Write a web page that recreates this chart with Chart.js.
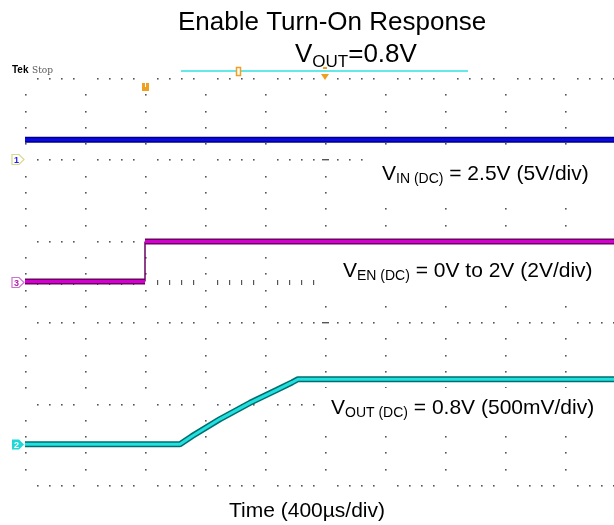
<!DOCTYPE html>
<html>
<head>
<meta charset="utf-8">
<script src="https://cdn.jsdelivr.net/npm/chart.js@4/dist/chart.umd.min.js"></script>
<style>
  html, body { margin: 0; padding: 0; background: #fff; }
  #wrap { width: 614px; height: 525px; position: relative; }
</style>
</head>
<body>
<div id="wrap"><canvas id="scope"></canvas></div>
<script>
// time in µs (400 µs/div), trace levels in screen divisions
const vinTime = [-800, 3200];
const vinLevel = [1.24, 1.24];

const enTime = [-800, 0, 0, 3200];
const enLevel = [-0.50, -0.50, -0.01, -0.01];

const voutTime = [-800, 233, 313, 500, 700, 880, 980, 1020, 3200];
const voutLevel = [-2.50, -2.50, -2.40, -2.19, -1.99, -1.83, -1.74, -1.70, -1.70];

const gridTimes = [-800, -400, 0, 400, 800, 1200, 1600, 2000, 2400, 2800];
const gridLevels = [2, 1, 0, -1, -2, -3];

// channel ground markers (screen divisions)
const markerLevels = [1, -0.5, -2.5];
const markerNames = ["1", "3", "2"];

const FONT = '"Liberation Sans", Arial, sans-serif';

function toPoints(times, levels) {
  return times.map((t, i) => ({ x: t, y: levels[i] }));
}

function isVertical(seg) {
  return seg.p0.parsed.x === seg.p1.parsed.x;
}

// first dataset is drawn on top, so the bright core goes first
function traceSets(times, levels, edge, core) {
  const pts = toPoints(times, levels);
  return [
    {
      data: pts, borderColor: core, borderWidth: 3, pointRadius: 0, borderJoinStyle: "bevel",
      segment: { borderColor: seg => isVertical(seg) ? "rgba(0,0,0,0)" : core }
    },
    {
      data: pts, borderColor: edge, borderWidth: 6, pointRadius: 0, borderJoinStyle: "bevel",
      segment: { borderWidth: seg => isVertical(seg) ? 1.5 : 6 }
    }
  ];
}

const scopeGrid = {
  id: "scopeGrid",
  beforeDatasetsDraw(chart) {
    const { ctx, scales: { x, y } } = chart;
    ctx.save();
    ctx.fillStyle = "#555";
    const top = gridLevels[0];
    const bottom = gridLevels[gridLevels.length - 1];
    const minorY = 0.2;
    const minorX = 80;

    // column dots
    gridTimes.forEach(t => {
      const px = Math.round(x.getPixelForValue(t));
      const steps = Math.round((top - bottom) / minorY);
      for (let i = 0; i <= steps; i++) {
        if (i % 5 === 0) continue;
        const py = Math.round(y.getPixelForValue(top - i * minorY));
        ctx.fillRect(px, py, 1.6, 1.6);
      }
    });

    // row dots
    gridLevels.forEach(v => {
      const py = Math.round(y.getPixelForValue(v));
      for (let j = 1; ; j++) {
        const px = Math.round(x.getPixelForValue(gridTimes[0] + j * minorX));
        if (px > chart.width) break;
        if (j % 5 === 0) continue;
        ctx.fillRect(px, py, 1.6, 1.6);
      }
    });

    // center column dashes at major rows
    const cx = Math.round(x.getPixelForValue(1200));
    [1, -1].forEach(v => {
      const py = Math.round(y.getPixelForValue(v));
      ctx.fillRect(cx - 3, py, 7, 1.4);
    });

    // tick marks on the center line
    const ty = Math.round(y.getPixelForValue(-0.5));
    for (let j = 1; ; j++) {
      const px = Math.round(x.getPixelForValue(gridTimes[0] + j * minorX));
      if (px > chart.width) break;
      if (j % 5 === 0) continue;
      ctx.fillRect(px, ty - 2, 1.2, 5);
    }

    // white label boxes
    ctx.fillStyle = "#fff";
    ctx.fillRect(364, 150, 250, 47);
    ctx.fillRect(318, 248, 296, 50);
    ctx.fillRect(318, 388, 296, 40);
    ctx.restore();
  }
};

function drawParts(ctx, parts, x, baseline) {
  let cx = x;
  parts.forEach(([text, size, dy]) => {
    ctx.font = size + "px " + FONT;
    ctx.fillText(text, cx, baseline + dy);
    cx += ctx.measureText(text).width;
  });
}

const scopeText = {
  id: "scopeText",
  afterDraw(chart) {
    const { ctx, scales: { y } } = chart;
    ctx.save();
    ctx.fillStyle = "#000";
    ctx.textBaseline = "alphabetic";

    drawParts(ctx, [["Enable Turn-On Response", 26, 0]], 178, 30);
    drawParts(ctx, [["V", 26, 0], ["OUT", 17, 5], ["=0.8V", 26, 0]], 295, 62);

    drawParts(ctx, [["V", 21, 0], ["IN (DC)", 14, 3], [" = 2.5V (5V/div)", 21, 0]], 382, 180);
    drawParts(ctx, [["V", 21, 0], ["EN (DC)", 14, 3], [" = 0V to 2V (2V/div)", 21, 0]], 343, 277);
    drawParts(ctx, [["V", 21, 0], ["OUT (DC)", 14, 3], [" = 0.8V (500mV/div)", 21, 0]], 331, 414);

    ctx.textAlign = "center";
    ctx.font = "21px " + FONT;
    ctx.fillText("Time (400µs/div)", 307, 517);
    ctx.textAlign = "left";

    // Tek Stop
    ctx.font = "bold 10px " + FONT;
    ctx.fillText("Tek", 12, 73);
    ctx.font = "9px 'DejaVu Serif', serif";
    ctx.fillStyle = "#555";
    ctx.fillText("Stop", 32, 73);

    // record bar and trigger markers
    ctx.strokeStyle = "#30e0e0";
    ctx.lineWidth = 1.5;
    ctx.beginPath();
    ctx.moveTo(181, 71);
    ctx.lineTo(468, 71);
    ctx.stroke();

    ctx.fillStyle = "#ffffff";
    ctx.strokeStyle = "#f0a020";
    ctx.lineWidth = 1.5;
    ctx.fillRect(236.5, 67.5, 4, 8);
    ctx.strokeRect(236.5, 67.5, 4, 8);

    ctx.fillStyle = "#f0a020";
    ctx.beginPath();
    ctx.moveTo(321, 74);
    ctx.lineTo(329, 74);
    ctx.lineTo(325, 80);
    ctx.closePath();
    ctx.fill();
    ctx.fillRect(323, 67, 4, 2);

    // trigger position "U"
    ctx.beginPath();
    ctx.moveTo(142, 83);
    ctx.lineTo(145, 83);
    ctx.lineTo(145, 87);
    ctx.lineTo(146, 87);
    ctx.lineTo(146, 83);
    ctx.lineTo(149, 83);
    ctx.lineTo(149, 91);
    ctx.lineTo(142, 91);
    ctx.closePath();
    ctx.fill();

    // channel markers
    const styles = [
      { edge: "#d8d890", text: "#2020e0", fill: null },
      { edge: "#d070d0", text: "#b020b0", fill: null },
      { edge: "#20d0d0", text: "#ffffff", fill: "#20d8d8" }
    ];
    markerLevels.forEach((v, i) => {
      const py = Math.round(y.getPixelForValue(v)) + 0.5;
      const s = styles[i];
      ctx.beginPath();
      ctx.moveTo(12, py - 5);
      ctx.lineTo(19, py - 5);
      ctx.lineTo(24, py);
      ctx.lineTo(19, py + 5);
      ctx.lineTo(12, py + 5);
      ctx.closePath();
      if (s.fill) {
        ctx.fillStyle = s.fill;
        ctx.fill();
      } else {
        ctx.fillStyle = "#fff";
        ctx.fill();
        ctx.strokeStyle = s.edge;
        ctx.lineWidth = 1.2;
        ctx.stroke();
      }
      ctx.fillStyle = s.text;
      ctx.font = "bold 9px " + FONT;
      ctx.fillText(markerNames[i], 14, py + 3.5);
    });

    ctx.restore();
  }
};

new Chart(document.getElementById("scope").getContext("2d"), {
  type: "line",
  data: {
    datasets: [
      ...traceSets(vinTime, vinLevel, "#000080", "#0808e8"),
      ...traceSets(enTime, enLevel, "#6a0060", "#d400d0"),
      ...traceSets(voutTime, voutLevel, "#006e6e", "#22e0e0")
    ]
  },
  options: {
    responsive: true,
    maintainAspectRatio: false,
    animation: false,
    layout: { padding: 0 },
    plugins: {
      legend: { display: false },
      tooltip: { enabled: false },
      title: { display: false }
    },
    scales: {
      x: { type: "linear", display: false, min: -966.67, max: 3126.67 },
      y: { type: "linear", display: false, min: -3.491, max: 2.958 }
    }
  },
  plugins: [scopeGrid, scopeText]
});
</script>
</body>
</html>
